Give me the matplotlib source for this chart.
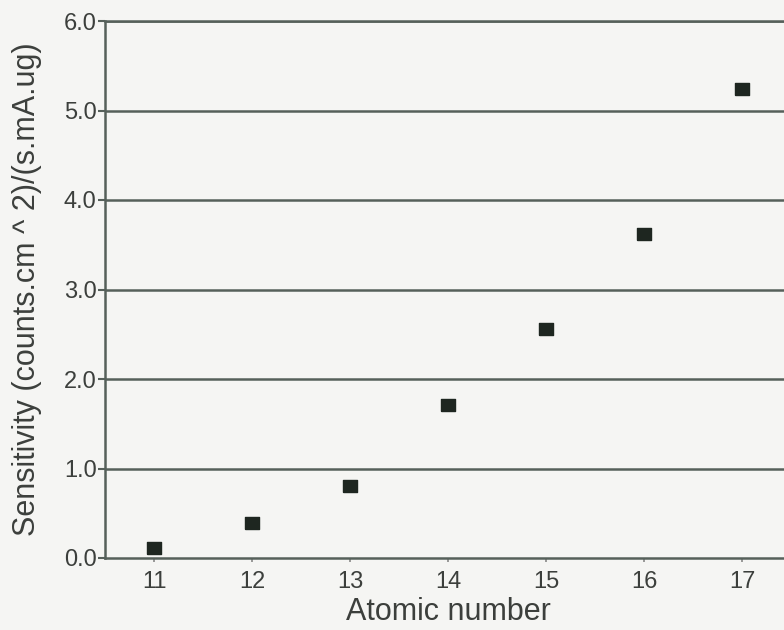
import matplotlib.pyplot as plt
from matplotlib.ticker import FixedLocator

# data
atomic_number = [11, 12, 13, 14, 15, 16, 17]
sensitivity = [0.11, 0.39, 0.80, 1.71, 2.56, 3.62, 5.24]
y_ticks = [0.0, 1.0, 2.0, 3.0, 4.0, 5.0, 6.0]

LINE = '#56605a'
TEXT = '#3c3f3c'
BG = '#f5f5f3'

plt.rcParams['font.family'] = ['Liberation Sans', 'DejaVu Sans']

fig = plt.figure(figsize=(7.84, 6.30), dpi=100, facecolor=BG)
# axes runs past the right edge, as in the cropped scan
ax = fig.add_axes([105 / 784, 72 / 630, 686 / 784, 537 / 630])
ax.set_facecolor(BG)

rect = [(-1.3, -1), (1.3, -1), (1.3, 1), (-1.3, 1), (-1.3, -1)]
ax.plot(atomic_number, sensitivity, linestyle='none', marker=rect,
        markersize=10.5, color='#1e2620')

ax.set_xlim(10.5, 17.5)
ax.set_ylim(0, 6)
ax.yaxis.set_major_locator(FixedLocator(y_ticks))
ax.set_yticklabels([f'{v:.1f}' for v in y_ticks])
ax.set_xticks(atomic_number)

for v in y_ticks[1:]:
    ax.axhline(v, color=LINE, linewidth=1.8, zorder=0)

ax.spines['right'].set_visible(False)
for side in ['left', 'bottom', 'top']:
    ax.spines[side].set_color(LINE)
    ax.spines[side].set_linewidth(1.8)

ax.tick_params(axis='y', direction='out', length=5, width=1.5, color=LINE,
               labelsize=17, labelcolor=TEXT, pad=1)
ax.tick_params(axis='x', direction='out', length=3, width=1.2, color='#888888',
               labelsize=17, labelcolor=TEXT, pad=6)

ax.set_xlabel('Atomic number', fontsize=22, color=TEXT, labelpad=3)
ax.set_ylabel('Sensitivity (counts.cm ^ 2)/(s.mA.ug)', fontsize=22,
              color=TEXT, labelpad=16)

fig.savefig('out.png', dpi=100, facecolor=BG)
